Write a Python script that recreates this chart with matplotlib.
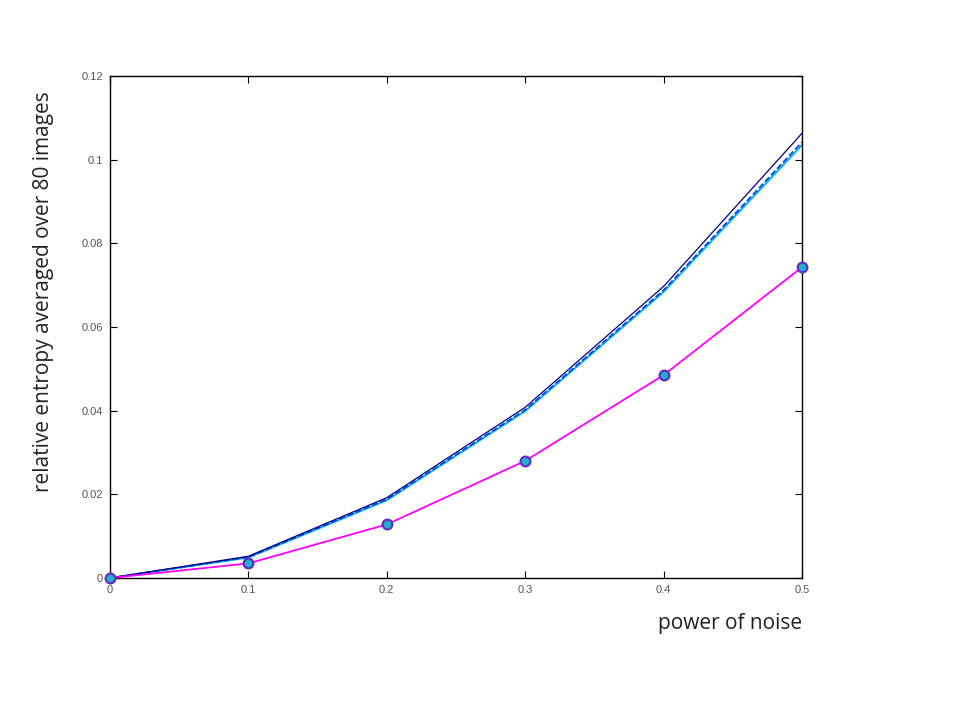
import numpy as np
import matplotlib.pyplot as plt

noise = [0.0, 0.1, 0.2, 0.3, 0.4, 0.5]
entropy_a = [0.0, 0.0052, 0.0192, 0.0408, 0.0697, 0.1063]
entropy_b = [0.0, 0.0050, 0.0188, 0.0402, 0.0688, 0.1042]
entropy_c = [0.0, 0.0049, 0.0186, 0.0399, 0.0684, 0.1035]
entropy_mean = [0.0, 0.0035, 0.0128, 0.0280, 0.0485, 0.0743]

xticks = [0, 0.1, 0.2, 0.3, 0.4, 0.5]
yticks = [0, 0.02, 0.04, 0.06, 0.08, 0.1, 0.12]

fig = plt.figure(figsize=(9.6, 7.2), dpi=100)
ax = fig.add_axes([110/960, 1-578/720, 692/960, 502/720])

ax.plot(noise, entropy_c, color='#00b0f0', lw=1.4)
ax.plot(noise, entropy_b, color='#0040e0', lw=1.2, ls='--')
ax.plot(noise, entropy_a, color='#000080', lw=0.9)
ax.plot(noise, entropy_mean, color='#ff00ff', lw=1.3, marker='o', ms=7,
        markerfacecolor='#20b0d0', markeredgecolor='#6030c0', markeredgewidth=1.6,
        clip_on=False, zorder=5)

ax.set_xlim(0, 0.5)
ax.set_ylim(0, 0.12)
ax.set_xticks(xticks)
ax.set_xticklabels(['0', '0.1', '0.2', '0.3', '0.4', '0.5'])
ax.set_yticks(yticks)
ax.set_yticklabels(['0', '0.02', '0.04', '0.06', '0.08', '0.1', '0.12'])
ax.tick_params(direction='in', length=5, top=True, right=True,
               labelsize=8, labelcolor='#555555', pad=5)
for lab in ax.get_xticklabels() + ax.get_yticklabels():
    lab.set_family('Liberation Sans')
for s in ax.spines.values():
    s.set_linewidth(1.0)

fig.text(730/960, 1-623/720, 'power of noise', fontsize=15, ha='center', va='center',
         family='Open Sans', color='#222222')
fig.text(44/960, 1-292/720, 'relative entropy averaged over 80 images', fontsize=15,
         rotation=90, ha='center', va='center', family='Open Sans', color='#222222')

fig.savefig('out.png', dpi=100)
